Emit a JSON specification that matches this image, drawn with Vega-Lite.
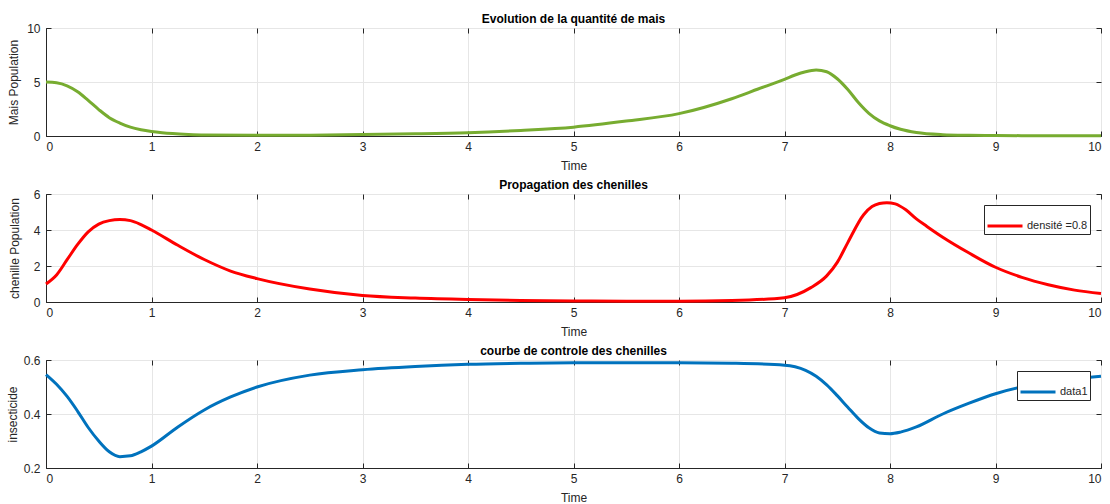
{
  "$schema": "https://vega.github.io/schema/vega-lite/v6.json",
  "background": "white",
  "padding": {"left": 5, "top": 12, "right": 5, "bottom": 2},
  "spacing": 6,
  "config": {
    "font": "Liberation Sans",
    "view": {"stroke": "#262626", "strokeWidth": 1},
    "title": {"fontSize": 12, "fontWeight": "bold", "color": "#000000", "offset": -4},
    "axis": {
      "labelFont": "Liberation Sans", "labelFontSize": 12, "labelColor": "#262626",
      "titleFont": "Liberation Sans", "titleFontSize": 12, "titleFontWeight": "normal", "titleColor": "#262626",
      "domainColor": "#262626", "tickColor": "#262626", "tickSize": -5,
      "gridColor": "#e6e6e6", "gridWidth": 1
    },
    "axisX": {"labelPadding": 10},
    "axisY": {"labelPadding": 11},
    "legend": {
      "orient": "top-right", "offset": 11, "symbolType": "stroke", "symbolSize": 1225,
      "symbolStrokeWidth": 3, "labelFontSize": 11, "labelColor": "#262626", "labelFont": "Liberation Sans",
      "strokeColor": "#262626", "fillColor": "white", "padding": 2, "title": null, "rowPadding": 0, "labelOffset": 3
    }
  },
  "datasets": {
    "mais": [
      {"t": 0, "v": 5.0}, {"t": 0.1, "v": 4.93}, {"t": 0.2, "v": 4.65}, {"t": 0.3, "v": 4.1}, {"t": 0.4, "v": 3.3},
      {"t": 0.5, "v": 2.45}, {"t": 0.6, "v": 1.7}, {"t": 0.7, "v": 1.2}, {"t": 0.8, "v": 0.82}, {"t": 0.9, "v": 0.58},
      {"t": 1.0, "v": 0.42}, {"t": 1.1, "v": 0.31}, {"t": 1.2, "v": 0.23}, {"t": 1.35, "v": 0.15}, {"t": 1.5, "v": 0.1},
      {"t": 2.0, "v": 0.06}, {"t": 2.5, "v": 0.07},
      {"t": 3.0, "v": 0.13}, {"t": 3.5, "v": 0.2}, {"t": 4.0, "v": 0.31}, {"t": 4.5, "v": 0.52}, {"t": 5.0, "v": 0.82},
      {"t": 5.5, "v": 1.38}, {"t": 6.0, "v": 2.07}, {"t": 6.5, "v": 3.45}, {"t": 6.75, "v": 4.35}, {"t": 7.0, "v": 5.25},
      {"t": 7.1, "v": 5.65}, {"t": 7.2, "v": 5.95}, {"t": 7.3, "v": 6.1}, {"t": 7.4, "v": 5.95}, {"t": 7.5, "v": 5.3},
      {"t": 7.6, "v": 4.3}, {"t": 7.7, "v": 3.1}, {"t": 7.8, "v": 2.1}, {"t": 7.9, "v": 1.4}, {"t": 8.0, "v": 0.95},
      {"t": 8.1, "v": 0.62}, {"t": 8.25, "v": 0.32}, {"t": 8.5, "v": 0.12}, {"t": 8.75, "v": 0.06}, {"t": 9.0, "v": 0.04},
      {"t": 9.5, "v": 0.03}, {"t": 10, "v": 0.02}
    ],
    "chenille": [
      {"t": 0, "v": 1.0}, {"t": 0.1, "v": 1.5}, {"t": 0.2, "v": 2.35}, {"t": 0.3, "v": 3.2}, {"t": 0.4, "v": 3.9},
      {"t": 0.5, "v": 4.33}, {"t": 0.6, "v": 4.52}, {"t": 0.7, "v": 4.58}, {"t": 0.8, "v": 4.52}, {"t": 0.9, "v": 4.3},
      {"t": 1.0, "v": 4.0}, {"t": 1.25, "v": 3.15}, {"t": 1.5, "v": 2.36}, {"t": 1.75, "v": 1.72}, {"t": 2.0, "v": 1.3},
      {"t": 2.5, "v": 0.72}, {"t": 3.0, "v": 0.36}, {"t": 3.5, "v": 0.22}, {"t": 4.0, "v": 0.14}, {"t": 4.5, "v": 0.09},
      {"t": 5.0, "v": 0.06}, {"t": 5.5, "v": 0.04}, {"t": 6.0, "v": 0.04}, {"t": 6.5, "v": 0.08}, {"t": 7.0, "v": 0.24},
      {"t": 7.25, "v": 0.8}, {"t": 7.4, "v": 1.45}, {"t": 7.5, "v": 2.2}, {"t": 7.6, "v": 3.3}, {"t": 7.75, "v": 4.85},
      {"t": 7.83, "v": 5.3}, {"t": 7.9, "v": 5.47}, {"t": 7.97, "v": 5.52}, {"t": 8.05, "v": 5.45}, {"t": 8.15, "v": 5.12},
      {"t": 8.25, "v": 4.62}, {"t": 8.35, "v": 4.2}, {"t": 8.5, "v": 3.6}, {"t": 8.75, "v": 2.72}, {"t": 9.0, "v": 1.93},
      {"t": 9.25, "v": 1.37}, {"t": 9.5, "v": 0.96}, {"t": 9.75, "v": 0.66}, {"t": 10, "v": 0.47}
    ],
    "insecticide": [
      {"t": 0, "v": 0.546}, {"t": 0.1, "v": 0.51}, {"t": 0.2, "v": 0.465}, {"t": 0.3, "v": 0.41}, {"t": 0.4, "v": 0.35},
      {"t": 0.5, "v": 0.30}, {"t": 0.6, "v": 0.26}, {"t": 0.7, "v": 0.242}, {"t": 0.8, "v": 0.245}, {"t": 0.9, "v": 0.26},
      {"t": 1.0, "v": 0.281}, {"t": 1.25, "v": 0.352}, {"t": 1.5, "v": 0.415}, {"t": 1.75, "v": 0.463}, {"t": 2.0, "v": 0.50},
      {"t": 2.5, "v": 0.544}, {"t": 3.0, "v": 0.564}, {"t": 3.5, "v": 0.576}, {"t": 4.0, "v": 0.584}, {"t": 4.5, "v": 0.588},
      {"t": 5.0, "v": 0.59}, {"t": 6.0, "v": 0.59}, {"t": 6.5, "v": 0.588}, {"t": 7.0, "v": 0.581}, {"t": 7.1, "v": 0.575},
      {"t": 7.2, "v": 0.562}, {"t": 7.3, "v": 0.54}, {"t": 7.4, "v": 0.508}, {"t": 7.5, "v": 0.468}, {"t": 7.6, "v": 0.425},
      {"t": 7.7, "v": 0.383}, {"t": 7.8, "v": 0.349}, {"t": 7.9, "v": 0.330}, {"t": 8.0, "v": 0.327}, {"t": 8.1, "v": 0.333},
      {"t": 8.25, "v": 0.352}, {"t": 8.5, "v": 0.40},
      {"t": 8.75, "v": 0.44}, {"t": 9.0, "v": 0.475}, {"t": 9.25, "v": 0.50}, {"t": 9.5, "v": 0.515}, {"t": 9.75, "v": 0.53},
      {"t": 10, "v": 0.54}
    ]
  },
  "resolve": {"scale": {"color": "independent"}},
  "vconcat": [
    {
      "title": "Evolution de la quantité de mais",
      "width": 1055, "height": 108,
      "data": {"name": "mais"},
      "layer": [
        {
          "mark": {"type": "line", "strokeWidth": 3, "color": "#77AC30", "interpolate": "monotone"},
          "encoding": {
            "x": {"field": "t", "type": "quantitative", "scale": {"domain": [0, 10], "nice": false},
                  "axis": {"title": "Time", "values": [0,1,2,3,4,5,6,7,8,9,10], "titlePadding": 8}},
            "y": {"field": "v", "type": "quantitative", "scale": {"domain": [0, 10], "nice": false},
                  "axis": {"title": "Mais Population", "values": [0, 5, 10], "titlePadding": 6}}
          }
        },
        {
          "mark": {"type": "line", "strokeOpacity": 0},
          "encoding": {
            "x": {"field": "t", "type": "quantitative", "axis": {"orient": "top", "labels": false, "title": null, "grid": false, "domain": false, "values": [0,1,2,3,4,5,6,7,8,9,10]}},
            "y": {"field": "v", "type": "quantitative", "axis": {"orient": "right", "labels": false, "title": null, "grid": false, "domain": false, "values": [0, 5, 10]}}
          }
        }
      ],
      "resolve": {"axis": {"x": "independent", "y": "independent"}}
    },
    {
      "title": "Propagation des chenilles",
      "width": 1055, "height": 108,
      "data": {"name": "chenille"},
      "layer": [
        {
          "mark": {"type": "line", "strokeWidth": 3, "interpolate": "monotone"},
          "encoding": {
            "x": {"field": "t", "type": "quantitative", "scale": {"domain": [0, 10], "nice": false},
                  "axis": {"title": "Time", "values": [0,1,2,3,4,5,6,7,8,9,10], "titlePadding": 8}},
            "y": {"field": "v", "type": "quantitative", "scale": {"domain": [0, 6], "nice": false},
                  "axis": {"title": "chenille Population", "values": [0, 2, 4, 6], "titlePadding": 12}},
            "color": {"datum": "densité =0.8", "type": "nominal", "scale": {"domain": ["densité =0.8"], "range": ["#FF0000"]}}
          }
        },
        {
          "mark": {"type": "line", "strokeOpacity": 0},
          "encoding": {
            "x": {"field": "t", "type": "quantitative", "axis": {"orient": "top", "labels": false, "title": null, "grid": false, "domain": false, "values": [0,1,2,3,4,5,6,7,8,9,10]}},
            "y": {"field": "v", "type": "quantitative", "axis": {"orient": "right", "labels": false, "title": null, "grid": false, "domain": false, "values": [0, 2, 4, 6]}}
          }
        }
      ],
      "resolve": {"axis": {"x": "independent", "y": "independent"}}
    },
    {
      "title": "courbe de controle des chenilles",
      "width": 1055, "height": 108,
      "data": {"name": "insecticide"},
      "layer": [
        {
          "mark": {"type": "line", "strokeWidth": 3, "interpolate": "monotone"},
          "encoding": {
            "x": {"field": "t", "type": "quantitative", "scale": {"domain": [0, 10], "nice": false},
                  "axis": {"title": "Time", "values": [0,1,2,3,4,5,6,7,8,9,10], "titlePadding": 8}},
            "y": {"field": "v", "type": "quantitative", "scale": {"domain": [0.2, 0.6], "nice": false, "zero": false},
                  "axis": {"title": "insecticide", "values": [0.2, 0.4, 0.6], "format": ".1f", "titlePadding": 4}},
            "color": {"datum": "data1", "type": "nominal", "scale": {"domain": ["data1"], "range": ["#0072BD"]}}
          }
        },
        {
          "mark": {"type": "line", "strokeOpacity": 0},
          "encoding": {
            "x": {"field": "t", "type": "quantitative", "axis": {"orient": "top", "labels": false, "title": null, "grid": false, "domain": false, "values": [0,1,2,3,4,5,6,7,8,9,10]}},
            "y": {"field": "v", "type": "quantitative", "axis": {"orient": "right", "labels": false, "title": null, "grid": false, "domain": false, "values": [0.2, 0.4, 0.6]}}
          }
        }
      ],
      "resolve": {"axis": {"x": "independent", "y": "independent"}}
    }
  ]
}
